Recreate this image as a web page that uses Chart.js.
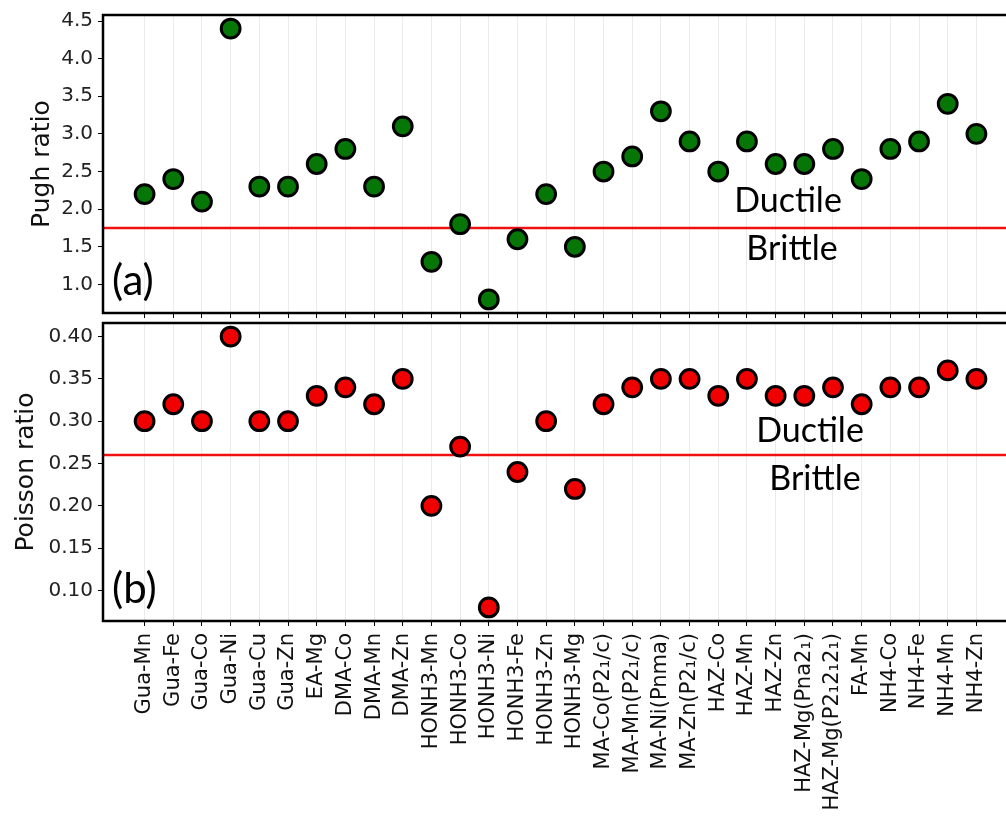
<!DOCTYPE html>
<html>
<head>
<meta charset="utf-8">
<script src="https://cdn.jsdelivr.net/npm/chart.js@4.4.0/dist/chart.umd.min.js"></script>
<style>
html, body { margin: 0; padding: 0; background: #fff; overflow: hidden; width: 1006px; height: 820px; }
#topo { position: absolute; left: 0; top: 0; }
#base { position: absolute; left: 0; top: 320px; }
</style>
</head>
<body>
<div id="topo"><canvas id="graficoPugh" width="1020" height="320"></canvas></div>
<div id="base"><canvas id="graficoPoisson" width="1020" height="500"></canvas></div>
<script>
// Dados
const compostos = [
    'Gua-Mn', 'Gua-Fe', 'Gua-Co', 'Gua-Ni', 'Gua-Cu', 'Gua-Zn', 'EA-Mg', 'DMA-Co', 'DMA-Mn', 'DMA-Zn',
    'HONH3-Mn', 'HONH3-Co', 'HONH3-Ni', 'HONH3-Fe', 'HONH3-Zn', 'HONH3-Mg',
    'MA-Co(P2\u2081/c)', 'MA-Mn(P2\u2081/c)', 'MA-Ni(Pnma)', 'MA-Zn(P2\u2081/c)',
    'HAZ-Co', 'HAZ-Mn', 'HAZ-Zn', 'HAZ-Mg(Pna2\u2081)', 'HAZ-Mg(P2\u20812\u20812\u2081)',
    'FA-Mn', 'NH4-Co', 'NH4-Fe', 'NH4-Mn', 'NH4-Zn'
];
const pugh = [2.2, 2.4, 2.1, 4.4, 2.3, 2.3, 2.6, 2.8, 2.3, 3.1, 1.3, 1.8, 0.8, 1.6, 2.2, 1.5,
    2.5, 2.7, 3.3, 2.9, 2.5, 2.9, 2.6, 2.6, 2.8, 2.4, 2.8, 2.9, 3.4, 3.0];
const poisson = [0.30, 0.32, 0.30, 0.40, 0.30, 0.30, 0.33, 0.34, 0.32, 0.35, 0.20, 0.27, 0.08, 0.24, 0.30, 0.22,
    0.32, 0.34, 0.35, 0.35, 0.33, 0.35, 0.33, 0.33, 0.34, 0.32, 0.34, 0.34, 0.36, 0.35];
const pughTicks = [1.0, 1.5, 2.0, 2.5, 3.0, 3.5, 4.0, 4.5];
const poissonTicks = [0.10, 0.15, 0.20, 0.25, 0.30, 0.35, 0.40];
const limitePugh = 1.75;
const limitePoisson = 0.26;

Chart.defaults.font.family = 'DejaVu Sans';
Chart.defaults.color = '#1a1a1a';

// Moldura, linha vermelha e textos
const moldura = {
    id: 'moldura',
    beforeDatasetsDraw(chart, args, opts) {
        const { ctx, chartArea: a, scales } = chart;
        const y = scales.y.getPixelForValue(opts.limite);
        ctx.save();
        ctx.strokeStyle = '#f01010';
        ctx.lineWidth = 2.5;
        ctx.beginPath();
        ctx.moveTo(a.left, y);
        ctx.lineTo(a.right, y);
        ctx.stroke();
        ctx.fillStyle = '#000';
        ctx.font = '34px Lato';
        ctx.textAlign = 'center';
        ctx.textBaseline = 'alphabetic';
        ctx.fillText('Ductile', opts.xDuctile, y - opts.acima);
        ctx.fillText('Brittle', opts.xBrittle, y + opts.abaixo);
        ctx.font = '42px Lato';
        ctx.textAlign = 'left';
        ctx.fillText(opts.painel, a.left + 9, a.bottom - 18);
        ctx.restore();
    },
    afterDraw(chart) {
        const { ctx, chartArea: a } = chart;
        ctx.save();
        ctx.strokeStyle = '#000';
        ctx.lineWidth = 2.5;
        ctx.strokeRect(a.left, a.top, a.right - a.left, a.bottom - a.top);
        ctx.restore();
    }
};

function eixoX(mostrar, altura) {
    return {
        type: 'linear',
        min: -1.45,
        max: 30.45,
        border: { display: false },
        grid: { color: '#ebebeb', lineWidth: 1, tickColor: '#000', tickLength: 5, drawTicks: true },
        afterBuildTicks: (s) => { s.ticks = compostos.map((c, i) => ({ value: i })); },
        afterFit: (s) => { s.height = altura; s.paddingLeft = 0; s.paddingRight = 0; },
        ticks: {
            display: mostrar,
            autoSkip: false,
            minRotation: 90,
            maxRotation: 90,
            padding: 7,
            color: '#111',
            font: { size: 21 },
            callback: (v) => compostos[v] ?? ''
        }
    };
}

function eixoY(min, max, marcas, casas, titulo, pad) {
    return {
        min: min,
        max: max,
        border: { display: false },
        grid: { drawOnChartArea: false, drawTicks: true, tickLength: 5, tickColor: '#000' },
        afterBuildTicks: (s) => { s.ticks = marcas.map(v => ({ value: v })); },
        afterFit: (s) => { s.width = 103; s.paddingTop = 0; s.paddingBottom = 0; },
        title: { display: true, text: titulo, color: '#111', font: { size: 25 }, padding: { top: pad, bottom: 0 } },
        ticks: { padding: 5, color: '#222', font: { size: 20 }, callback: (v) => Number(v).toFixed(casas) }
    };
}

new Chart(document.getElementById('graficoPugh'), {
    type: 'scatter',
    data: {
        datasets: [{
            data: pugh.map((v, i) => ({ x: i, y: v })),
            backgroundColor: '#067606',
            borderColor: '#000',
            borderWidth: 3,
            pointRadius: 9.4
        }]
    },
    options: {
        responsive: false,
        animation: false,
        layout: { autoPadding: false, padding: { top: 15, right: 2, bottom: 0, left: 0 } },
        plugins: {
            legend: { display: false },
            tooltip: { enabled: false },
            moldura: { limite: limitePugh, xDuctile: 788, xBrittle: 792, acima: 16, abaixo: 32, painel: '(a)' }
        },
        scales: {
            x: eixoX(false, 7),
            y: eixoY(0.62, 4.58, pughTicks, 1, 'Pugh ratio', 27)
        }
    },
    plugins: [moldura]
});

new Chart(document.getElementById('graficoPoisson'), {
    type: 'scatter',
    data: {
        datasets: [{
            data: poisson.map((v, i) => ({ x: i, y: v })),
            backgroundColor: '#f00000',
            borderColor: '#000',
            borderWidth: 3,
            pointRadius: 9.4
        }]
    },
    options: {
        responsive: false,
        animation: false,
        layout: { autoPadding: false, padding: { top: 3, right: 2, bottom: 0, left: 0 } },
        plugins: {
            legend: { display: false },
            tooltip: { enabled: false },
            moldura: { limite: limitePoisson, xDuctile: 810, xBrittle: 815, acima: 13, abaixo: 35, painel: '(b)' }
        },
        scales: {
            x: eixoX(true, 199),
            y: eixoY(0.064, 0.416, poissonTicks, 2, 'Poisson ratio', 11)
        }
    },
    plugins: [moldura]
});
</script>
</body>
</html>
